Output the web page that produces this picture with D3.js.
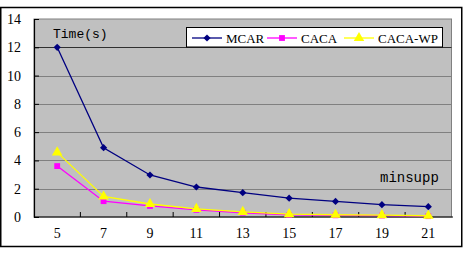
<!DOCTYPE html>
<html>
<head>
<meta charset="utf-8">
<script src="https://cdn.jsdelivr.net/npm/d3@7"></script>
<style>
  body { margin: 0; background: #fff; }
  svg { display: block; }
</style>
</head>
<body>
<div id="chart"></div>
<script>
var minsupp = [5, 7, 9, 11, 13, 15, 17, 19, 21];
var mcar = [12.0, 4.9, 2.97, 2.12, 1.72, 1.33, 1.1, 0.87, 0.73];
var caca = [3.6, 1.12, 0.78, 0.5, 0.3, 0.15, 0.12, 0.1, 0.06];
var cacaWp = [4.57, 1.45, 0.92, 0.57, 0.36, 0.2, 0.16, 0.13, 0.09];
var yTicks = [0, 2, 4, 6, 8, 10, 12, 14];

// diamond = square turned 45 degrees
var series = [
    {name: 'MCAR', values: mcar, color: '#000080', symbol: d3.symbolSquare, size: 26, rotate: 45},
    {name: 'CACA', values: caca, color: '#ff00ff', symbol: d3.symbolSquare, size: 34, rotate: 0},
    {name: 'CACA-WP', values: cacaWp, color: '#ffff00', symbol: d3.symbolTriangle, size: 48, rotate: 0}
];

var serif = 'Liberation Serif';
var mono = 'Liberation Mono';

var width = 468, height = 254,
    plot = {left: 34, top: 19, right: 451.5, bottom: 217};

var svg = d3.select('#chart').append('svg')
    .attr('width', width)
    .attr('height', height);

// outer frame
svg.append('rect')
    .attr('x', 0.75).attr('y', 7.5)
    .attr('width', 461).attr('height', 239)
    .attr('fill', '#fff')
    .attr('stroke', '#000')
    .attr('stroke-width', 1.5);

var x = d3.scaleBand()
    .domain(minsupp)
    .range([plot.left, plot.right]);

var y = d3.scaleLinear()
    .domain([0, 14])
    .range([plot.bottom, plot.top]);

var xc = function (d) { return x(d) + x.bandwidth() / 2; };

// plot background
svg.append('rect')
    .attr('x', plot.left).attr('y', plot.top)
    .attr('width', plot.right - plot.left).attr('height', plot.bottom - plot.top)
    .attr('fill', '#c0c0c0')
    .attr('stroke', '#808080')
    .attr('stroke-width', 1);

// gridlines
svg.append('g')
    .selectAll('line')
    .data(yTicks.filter(function (t) { return t > 0 && t < 14; }))
    .join('line')
    .attr('x1', plot.left).attr('x2', plot.right)
    .attr('y1', function (d) { return Math.round(y(d)) + 0.5; })
    .attr('y2', function (d) { return Math.round(y(d)) + 0.5; })
    .attr('stroke', function (d) { return d === 12 ? '#303030' : '#808080'; })
    .attr('stroke-width', 1);

// y axis
var yAxis = svg.append('g')
    .attr('transform', 'translate(' + plot.left + ',0)')
    .call(d3.axisRight(y).tickValues(yTicks).tickSize(5).tickFormat(''));
yAxis.select('.domain').attr('stroke', '#000').attr('stroke-width', 1.2);
yAxis.selectAll('line').attr('stroke', '#000');

svg.append('g')
    .selectAll('text')
    .data(yTicks)
    .join('text')
    .attr('x', 21)
    .attr('y', function (d) { return y(d) + 5; })
    .attr('text-anchor', 'end')
    .style('font-family', serif)
    .style('font-size', '14px')
    .text(function (d) { return d; });

// x axis: ticks between categories, pointing up
var boundaries = minsupp.slice(1).map(function (d) { return x(d); });
svg.append('g')
    .selectAll('line')
    .data(boundaries)
    .join('line')
    .attr('x1', function (d) { return d; })
    .attr('x2', function (d) { return d; })
    .attr('y1', plot.bottom)
    .attr('y2', plot.bottom - 5)
    .attr('stroke', '#000');
svg.append('line')
    .attr('x1', plot.left).attr('x2', plot.right + 1.5)
    .attr('y1', plot.bottom).attr('y2', plot.bottom)
    .attr('stroke', '#000')
    .attr('stroke-width', 1.2);

svg.append('g')
    .selectAll('text')
    .data(minsupp)
    .join('text')
    .attr('x', function (d) { return xc(d); })
    .attr('y', 238)
    .attr('text-anchor', 'middle')
    .style('font-family', serif)
    .style('font-size', '14px')
    .text(function (d) { return d; });

// series
var line = d3.line()
    .x(function (d, i) { return xc(minsupp[i]); })
    .y(function (d) { return y(d); });

series.forEach(function (s) {
    svg.append('path')
        .datum(s.values)
        .attr('d', line)
        .attr('fill', 'none')
        .attr('stroke', s.color)
        .attr('stroke-width', 1.3);
});

series.forEach(function (s) {
    svg.append('g')
        .selectAll('path')
        .data(s.values)
        .join('path')
        .attr('transform', function (d, i) {
            return 'translate(' + xc(minsupp[i]) + ',' + y(d) + ') rotate(' + s.rotate + ')';
        })
        .attr('d', d3.symbol().type(s.symbol).size(s.size))
        .attr('fill', s.color);
});

// axis titles
svg.append('text')
    .attr('x', 53).attr('y', 38)
    .style('font-family', mono)
    .style('font-size', '13px')
    .text('Time(s)');

svg.append('text')
    .attr('x', 380).attr('y', 182)
    .style('font-family', mono)
    .style('font-size', '14px')
    .text('minsupp');

// legend
var legend = svg.append('g');
legend.append('rect')
    .attr('x', 186.5).attr('y', 27.5)
    .attr('width', 256).attr('height', 19.5)
    .attr('fill', '#fff')
    .attr('stroke', '#000')
    .attr('stroke-width', 1);

var legendX = [192, 267, 344];
series.forEach(function (s, i) {
    var lx = legendX[i], ly = 38;
    legend.append('line')
        .attr('x1', lx).attr('x2', lx + 30)
        .attr('y1', ly).attr('y2', ly)
        .attr('stroke', s.color)
        .attr('stroke-width', 1.3);
    legend.append('path')
        .attr('transform', 'translate(' + (lx + 15) + ',' + ly + ') rotate(' + s.rotate + ')')
        .attr('d', d3.symbol().type(s.symbol).size(s.size))
        .attr('fill', s.color);
    legend.append('text')
        .attr('x', lx + 34).attr('y', ly + 5)
        .style('font-family', serif)
        .style('font-size', '13px')
        .text(s.name);
});
</script>
</body>
</html>
